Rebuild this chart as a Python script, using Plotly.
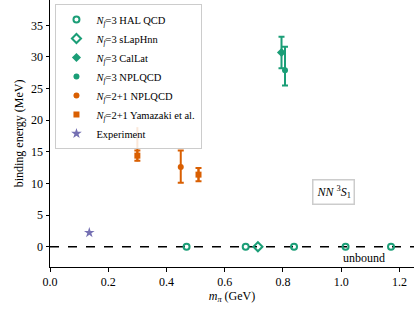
import plotly.graph_objects as go

GREEN = "#1b9e77"
ORANGE = "#d95f02"
PURPLE = "#7570b3"

# Data (m_pi in GeV, binding energy in MeV)
hal_x = [0.469, 0.672, 0.838, 1.015, 1.171]
hal_y = [0.0, 0.0, 0.0, 0.0, 0.0]

slap_x = [0.714]
slap_y = [0.0]

callat_x = [0.795]
callat_y = [30.7]
callat_err = [2.5]

npl3_x = [0.807]
npl3_y = [27.9]
npl3_up = [3.7]
npl3_dn = [2.4]

npl21_x = [0.449]
npl21_y = [12.6]
npl21_up = [2.6]
npl21_dn = [2.5]

yam_x = [0.300, 0.510]
yam_y = [14.4, 11.4]
yam_stat = [0.8, 1.05]
yam_tot_up = [4.5, 1.05]
yam_tot_dn = [0.9, 1.05]

exp_x = [0.135]
exp_y = [2.22]

FONT = "Liberation Serif, Times New Roman, serif"
NF = "<i>N</i><sub><i>f</i></sub>"

fig = go.Figure()

fig.add_shape(type="line", xref="x", yref="y", x0=0, x1=1.25, y0=0, y1=0,
              line=dict(color="black", width=1.5, dash="dash"), layer="below")

def eb(up, dn=None, color=GREEN, width=3):
    d = dict(type="data", array=up, color=color, thickness=2, width=width, visible=True)
    if dn is not None:
        d["symmetric"] = False
        d["arrayminus"] = dn
    return d

fig.add_trace(go.Scatter(x=hal_x, y=hal_y, mode="markers", name=f"{NF}=3 HAL QCD",
                         marker=dict(symbol="circle-open", size=6, color=GREEN, line=dict(width=2))))
fig.add_trace(go.Scatter(x=slap_x, y=slap_y, mode="markers", name=f"{NF}=3 sLapHnn",
                         marker=dict(symbol="diamond-open", size=7, color=GREEN, line=dict(width=2))))
fig.add_trace(go.Scatter(x=callat_x, y=callat_y, mode="markers", name=f"{NF}=3 CalLat",
                         error_y=eb(callat_err),
                         marker=dict(symbol="diamond", size=7, color=GREEN)))
fig.add_trace(go.Scatter(x=npl3_x, y=npl3_y, mode="markers", name=f"{NF}=3 NPLQCD",
                         error_y=eb(npl3_up, npl3_dn),
                         marker=dict(symbol="circle", size=6, color=GREEN)))
fig.add_trace(go.Scatter(x=npl21_x, y=npl21_y, mode="markers", name=f"{NF}=2+1 NPLQCD",
                         error_y=eb(npl21_up, npl21_dn, ORANGE),
                         marker=dict(symbol="circle", size=6, color=ORANGE)))
fig.add_trace(go.Scatter(x=yam_x, y=yam_y, mode="markers", showlegend=False,
                         error_y=eb(yam_tot_up, yam_tot_dn, ORANGE, 0),
                         marker=dict(symbol="square", size=1, color=ORANGE, opacity=0)))
fig.add_trace(go.Scatter(x=yam_x, y=yam_y, mode="markers", name=f"{NF}=2+1 Yamazaki et al.",
                         error_y=eb(yam_stat, None, ORANGE),
                         marker=dict(symbol="square", size=6, color=ORANGE)))
fig.add_trace(go.Scatter(x=exp_x, y=exp_y, mode="markers", name="Experiment",
                         marker=dict(symbol="star", size=8, color=PURPLE)))

fig.add_annotation(x=0.975, y=8.6, xref="x", yref="y",
                   text="<i>NN</i> <sup>3</sup><i>S</i><sub>1</sub>", showarrow=False,
                   font=dict(family=FONT, size=12, color="black"),
                   bgcolor="white", bordercolor="#cccccc", borderwidth=1.5, borderpad=3)
fig.add_annotation(x=1.0, y=-0.3, xref="x", yref="y", text="unbound", showarrow=False,
                   xanchor="left", yanchor="top",
                   font=dict(family=FONT, size=12, color="black"))

axis_common = dict(showline=True, linecolor="black", linewidth=1, ticks="outside",
                   ticklen=3.5, tickcolor="black", showgrid=False, zeroline=False,
                   automargin=False,
                   tickfont=dict(family=FONT, size=12, color="black"))

fig.update_layout(
    width=415, height=311,
    margin=dict(l=50, r=1, t=0, b=44),
    plot_bgcolor="white", paper_bgcolor="white",
    font=dict(family=FONT, size=12, color="black"),
    xaxis=dict(range=[0, 1.25], tickvals=[0, 0.2, 0.4, 0.6, 0.8, 1.0, 1.2],
               ticktext=["0.0", "0.2", "0.4", "0.6", "0.8", "1.0", "1.2"],
               title=dict(text="<i>m</i><sub><i>π</i></sub> (GeV)", standoff=2,
                          font=dict(family=FONT, size=12)),
               **axis_common),
    yaxis=dict(range=[-3.2, 39], tickvals=[0, 5, 10, 15, 20, 25, 30, 35],
               title=dict(text="binding energy (MeV)", standoff=4,
                          font=dict(family=FONT, size=12)),
               **axis_common),
    legend=dict(x=0.015, y=0.985, xanchor="left", yanchor="top",
                bgcolor="rgba(255,255,255,0.85)", bordercolor="#cccccc", borderwidth=1,
                font=dict(family=FONT, size=10.5), tracegroupgap=0, itemwidth=30),
    showlegend=True,
)

fig.write_html("out.html", config={"displayModeBar": False},
               post_script="document.body.style.margin='0';document.body.style.overflow='hidden';")
